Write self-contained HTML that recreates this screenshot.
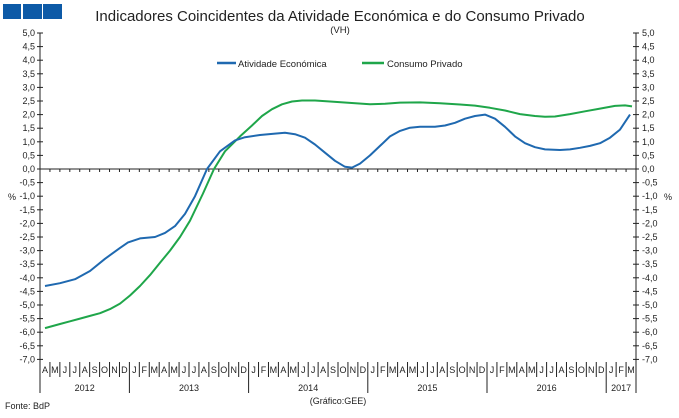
<!DOCTYPE html>
<html><head><meta charset="utf-8"><style>
body{margin:0;background:#fff;}
svg{display:block;font-family:"Liberation Sans",sans-serif;}
</style></head><body>
<svg id="s" width="679" height="418" viewBox="0 0 679 418" xmlns="http://www.w3.org/2000/svg">
<rect x="3" y="4" width="18" height="15" fill="#0d5aa7"/>
<rect x="23" y="4" width="19" height="15" fill="#0d5aa7"/>
<rect x="43" y="4" width="19" height="15" fill="#0d5aa7"/>
<text x="340" y="21" font-size="15" text-anchor="middle" fill="#222">Indicadores Coincidentes da Atividade Económica e do Consumo Privado</text>
<text x="340" y="33" font-size="9.5" text-anchor="middle" fill="#222">(VH)</text>
<line x1="217" y1="63" x2="236" y2="63" stroke="#1f69b0" stroke-width="2.5"/>
<text x="238" y="67" font-size="9.5" fill="#222">Atividade Económica</text>
<line x1="362" y1="63" x2="384" y2="63" stroke="#1fa64a" stroke-width="2.5"/>
<text x="387" y="67" font-size="9.5" fill="#222">Consumo Privado</text>
<g id="ax" stroke="#222" stroke-width="1"></g>
<g id="lbl" font-size="9" fill="#222"></g>
<text x="8" y="200" font-size="9" fill="#222">%</text>
<text x="664" y="200" font-size="9" fill="#222">%</text>
<text x="5" y="409" font-size="9" fill="#222">Fonte: BdP</text>
<text x="338" y="404" font-size="9" text-anchor="middle" fill="#222">(Gráfico:GEE)</text>
<polyline id="g" fill="none" stroke="#1fa64a" stroke-width="2" stroke-linejoin="round"/>
<polyline id="b" fill="none" stroke="#1f69b0" stroke-width="2" stroke-linejoin="round"/>
</svg>
<script>
var NS="http://www.w3.org/2000/svg";
function el(p,t,a,txt){var e=document.createElementNS(NS,t);for(var k in a)e.setAttribute(k,a[k]);if(txt)e.textContent=txt;document.getElementById(p).appendChild(e);}
var L=40,R=636,Y0=169,S=27.2;
function Y(v){return Y0-v*S;}
el("ax","line",{x1:L,y1:33,x2:L,y2:393});
el("ax","line",{x1:R,y1:33,x2:R,y2:393});
el("ax","line",{x1:L,y1:Y0,x2:R,y2:Y0});
for(var i=0;i<=24;i++){var v=5-i*0.5,y=Y(v);
el("ax","line",{x1:L-3,y1:y,x2:L+3,y2:y});el("ax","line",{x1:R-3,y1:y,x2:R+3,y2:y});
var t=v.toFixed(1).replace(".",",");if(t=="-0,0")t="0,0";
el("lbl","text",{x:L-5,y:y+3,"text-anchor":"end"},t);el("lbl","text",{x:R+6,y:y+3},t);}
var mw=(R-L)/60,ms="AMJJASONDJFMAMJJASONDJFMAMJJASONDJFMAMJJASONDJFMAMJJASONDJFM".split("");
for(var i=0;i<60;i++){var x=L+mw*i;
if(i>0){var yr=(i-9)%12==0;el("ax","line",{x1:x,y1:Y0,x2:x,y2:Y0+3});el("ax","line",{x1:x,y1:362,x2:x,y2:yr?393:377});}
el("lbl","text",{x:x+mw/2,y:373,"text-anchor":"middle"},ms[i]);}
var yrs=[[2012,0,9],[2013,9,21],[2014,21,33],[2015,33,45],[2016,45,57],[2017,57,60]];
yrs.forEach(function(a){el("lbl","text",{x:L+mw*(a[1]+a[2])/2,y:391,"text-anchor":"middle"},a[0]);});
var B=[[45,-4.3],[60,-4.2],[75,-4.05],[90,-3.75],[105,-3.3],[120,-2.9],[128,-2.7],[140,-2.55],[155,-2.5],[165,-2.35],[175,-2.1],[185,-1.65],[195,-1.0],[207,0.0],[220,0.65],[235,1.05],[245,1.17],[260,1.25],[275,1.3],[285,1.33],[295,1.28],[305,1.15],[315,0.9],[325,0.6],[335,0.3],[345,0.08],[352,0.05],[360,0.2],[370,0.5],[380,0.85],[390,1.2],[400,1.4],[410,1.52],[420,1.55],[435,1.55],[445,1.6],[455,1.7],[465,1.85],[475,1.95],[485,2.0],[495,1.85],[505,1.55],[515,1.2],[525,0.95],[535,0.8],[545,0.72],[560,0.7],[570,0.72],[580,0.78],[590,0.85],[600,0.95],[610,1.15],[620,1.45],[630,2.0]];
var G=[[45,-5.85],[60,-5.7],[70,-5.6],[80,-5.5],[90,-5.4],[100,-5.3],[110,-5.15],[120,-4.95],[130,-4.65],[140,-4.3],[150,-3.9],[160,-3.45],[170,-3.0],[180,-2.5],[190,-1.9],[203,-0.9],[214,0.0],[225,0.65],[240,1.2],[252,1.6],[262,1.95],[272,2.2],[282,2.38],[292,2.48],[302,2.52],[315,2.52],[330,2.48],[350,2.43],[370,2.38],[385,2.4],[400,2.44],[420,2.45],[440,2.42],[460,2.37],[475,2.33],[490,2.25],[505,2.15],[520,2.02],[535,1.95],[545,1.92],[555,1.93],[570,2.02],[585,2.12],[600,2.22],[615,2.32],[625,2.34],[632,2.3]];
function pts(a){return a.map(function(p){return p[0]+","+Y(p[1]).toFixed(1);}).join(" ");}
document.getElementById("b").setAttribute("points",pts(B));
document.getElementById("g").setAttribute("points",pts(G));
</script>
</body></html>
